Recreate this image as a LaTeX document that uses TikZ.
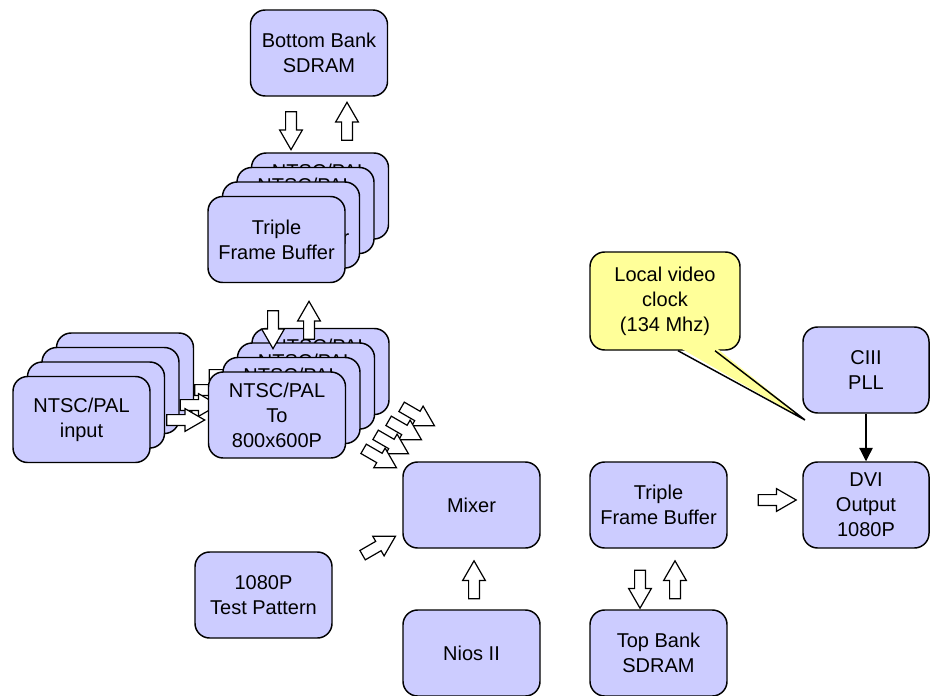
\documentclass[tikz,border=0pt]{standalone}
\usepackage{fontspec}
\setmainfont{Liberation Sans}
\usepackage{xcolor}
\usetikzlibrary{shapes.arrows, arrows.meta, calc}
\definecolor{blockfill}{HTML}{CCCCFF}
\definecolor{notefill}{HTML}{FFFF99}

\begin{document}
\begin{tikzpicture}[x=0.75pt, y=-0.75pt,
        box/.style={draw, line width=1.1pt, fill=blockfill, rounded corners=11pt,
            minimum width=102.75pt, minimum height=64.5pt, align=center,
            font=\fontsize{15pt}{18.75pt}\selectfont},
        hollow/.style={single arrow, draw, fill=white, line width=0.9pt,
            minimum height=28.5pt, single arrow head extend=4.5pt,
            single arrow tip angle=60, inner xsep=0pt, inner ysep=3.6pt}]
        \useasboundingbox (0,0) rectangle (930,695);

        % memory bank on top
        \node [box] (bank) at (319,53) {Bottom Bank\\SDRAM};

        % frame buffer stack
        \node [box] (buf4) at (320,196) {NTSC/PAL\\ \\ };
        \node [box] (buf3) at (305.5,210.5) {NTSC/PAL\\ \\ };
        \node [box] (buf2) at (291,225) {Triple\\Frame Buffer};
        \node [box] (buf1) at (276.5,239.5) {Triple\\Frame Buffer};
        \node [hollow, rotate=-90] (bankdn) at (291,126) {};
        \node [hollow, rotate=90] (bankup) at (347,126) {};

        % inputs and converters, back to front
        \node [box] (in4) at (125,376) {};
        \node [box] (conv4) at (320.5,371.5) {NTSC/PAL\\ \\ };
        \node [hollow] (inarr4) at (223.5,375) {};
        \node [box] (in3) at (110.5,390.5) {};
        \node [box] (conv3) at (306,386) {NTSC/PAL\\ \\ };
        \node [hollow] (inarr3) at (209,390) {};
        \node [box] (in2) at (96,405) {};
        \node [box] (conv2) at (291.5,400.5) {NTSC/PAL\\ \\ };
        \node [hollow] (inarr2) at (194.5,405) {};
        \node [box] (in1) at (81.5,419.5) {NTSC/PAL\\input};
        \node [box] (conv1) at (277,415) {NTSC/PAL\\To\\800x600P};
        \node [hollow] (inarr1) at (181,420) {};

        \node [hollow, rotate=-90] (bufdn) at (273,325) {};
        \node [hollow, rotate=90] (bufup) at (309,325) {};

        % converters into mixer
        \node [hollow, rotate=-30] (mixarr4) at (414,414) {};
        \node [hollow, rotate=-30] (mixarr3) at (401,428) {};
        \node [hollow, rotate=-30] (mixarr2) at (388,442) {};
        \node [hollow, rotate=-30] (mixarr1) at (376,456) {};

        \node [box] (mixer) at (471.5,505) {Mixer};
        \node [box] (nios) at (471.5,653) {Nios II};
        \node [box] (test) at (263.5,595) {1080P\\Test Pattern};
        \node [hollow, rotate=30] (testarr) at (375,548) {};
        \node [hollow, rotate=90] (niosarr) at (474,584.5) {};

        % output side
        \node [box] (outbuf) at (658.5,505) {Triple\\Frame Buffer};
        \node [box] (topbank) at (658.5,653) {Top Bank\\SDRAM};
        \node [hollow, rotate=-90] (topdn) at (640,584.5) {};
        \node [hollow, rotate=90] (topup) at (675,584.5) {};
        \node [hollow] (outarr) at (772.5,500) {};

        \node [box, minimum width=94.5pt] (pll) at (866,370) {CIII\\PLL};
        \node [box, minimum width=94.5pt] (dvi) at (866,505) {DVI\\Output\\1080P};
        \draw [line width=0.9pt, -{Triangle[length=10pt, width=10pt]}] (pll) -- (dvi);

        % callout
        \node [box, fill=notefill, minimum width=112.5pt, minimum height=73.5pt] (clock) at (665,301) {Local video\\clock\\(134 Mhz)};
        \fill [notefill] ($(clock.south)+(13,-4)$) -- (805,420) -- ($(clock.south)+(50,-4)$) -- cycle;
        \draw [line width=1.1pt] ($(clock.south)+(13,0)$) -- (805,420) -- ($(clock.south)+(50,0)$);
\end{tikzpicture}
\end{document}
